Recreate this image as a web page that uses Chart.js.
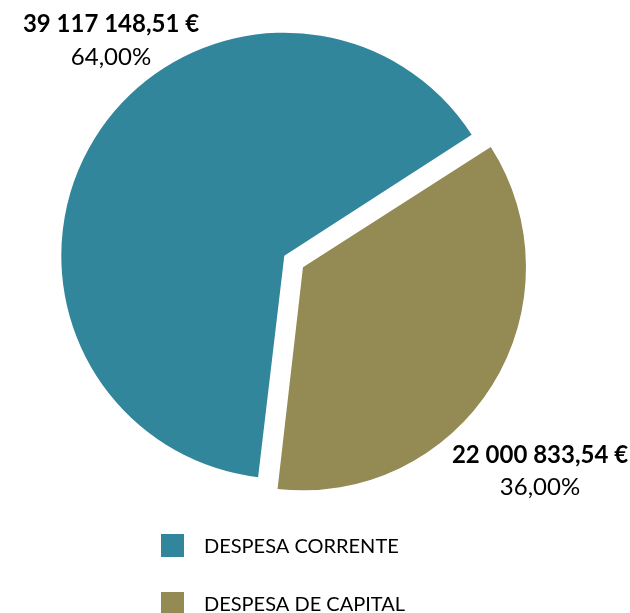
<!DOCTYPE html>
<html>
<head>
<meta charset="utf-8">
<script src="https://cdn.jsdelivr.net/npm/chart.js@4"></script>
<style>
  html, body { margin: 0; padding: 0; background: #fff; }
  #wrap { position: relative; width: 630px; height: 613px; }
</style>
</head>
<body>
<div id="wrap"><canvas id="despesaChart" width="630" height="613"></canvas></div>
<script>
// dados
const categorias = ['DESPESA CORRENTE', 'DESPESA DE CAPITAL'];
const valores = [39117148.51, 22000833.54];
const valoresTexto = ['39 117 148,51 €', '22 000 833,54 €'];
const percentagens = ['64,00%', '36,00%'];
const cores = ['#31869B', '#948A54'];

// posição das etiquetas (centro x, linha de base y)
const posEtiquetas = [
  { x: 111, y1: 32, y2: 65 },
  { x: 540, y1: 463, y2: 495 }
];

// o offset do Chart.js aumenta o raio da fatia destacada; repor o raio original
const raioPlugin = {
  id: 'raio',
  beforeDatasetsDraw(chart) {
    chart.getDatasetMeta(0).data.forEach(arc => {
      const off = (arc.options.offset || 0) / 4;
      const fix = 1 - Math.sin(Math.min(Math.PI, arc.circumference));
      arc.outerRadius = 223 - off * fix;
    });
  }
};

const etiquetasPlugin = {
  id: 'etiquetas',
  afterDraw(chart) {
    const ctx = chart.ctx;
    ctx.save();
    ctx.fillStyle = '#000';
    ctx.textAlign = 'center';
    ctx.textBaseline = 'alphabetic';
    posEtiquetas.forEach((p, i) => {
      ctx.font = 'bold 24px Lato';
      ctx.fillText(valoresTexto[i], p.x, p.y1);
      ctx.font = '24px Lato';
      ctx.fillText(percentagens[i], p.x, p.y2);
    });
    // legenda
    ctx.textAlign = 'left';
    ctx.font = '20px Lato';
    categorias.forEach((c, i) => {
      const y = 534 + i * 58;
      ctx.fillStyle = cores[i];
      ctx.fillRect(161, y, 23, 23);
      ctx.fillStyle = '#000';
      ctx.fillText(c, 204, y + 19);
    });
    ctx.restore();
  }
};

new Chart(document.getElementById('despesaChart').getContext('2d'), {
  type: 'pie',
  data: {
    labels: categorias,
    datasets: [{
      data: valores,
      backgroundColor: cores,
      borderWidth: 0,
      offset: [0, 88]
    }]
  },
  options: {
    responsive: false,
    animation: false,
    rotation: 186.75,
    radius: 223,
    layout: { padding: { left: 0, top: 0, right: 61.4, bottom: 101.6 } },
    plugins: {
      legend: { display: false },
      tooltip: { enabled: false }
    }
  },
  plugins: [raioPlugin, etiquetasPlugin]
});
</script>
</body>
</html>
